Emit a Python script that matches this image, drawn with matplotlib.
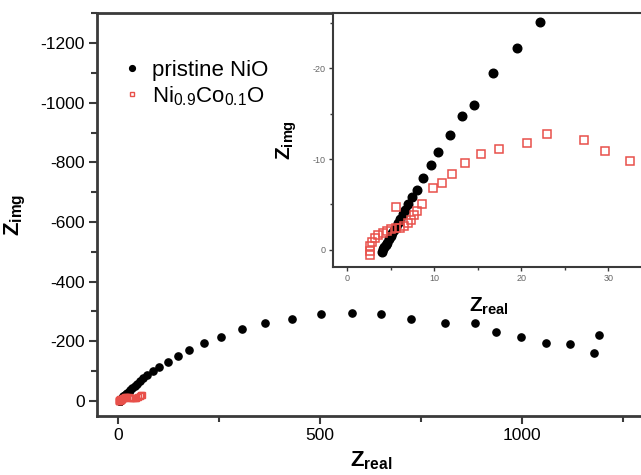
import matplotlib
matplotlib.use("Agg")
import matplotlib.pyplot as plt
from matplotlib.ticker import MultipleLocator

plt.rcParams['font.family'] = ['Liberation Sans', 'DejaVu Sans']
plt.rcParams['mathtext.fontset'] = 'custom'
plt.rcParams['mathtext.rm'] = 'Liberation Sans'
plt.rcParams['mathtext.bf'] = 'Liberation Sans:bold'
plt.rcParams['mathtext.it'] = 'Liberation Sans:italic'
plt.rcParams['axes.unicode_minus'] = False

# ---------------- data (Z_real, Z_img) ----------------
nio_real = [4.0, 4.15, 4.3, 4.45, 4.6, 4.8, 5.0, 5.2, 5.4, 5.6, 5.85, 6.1, 6.4, 6.7, 7.05,
            7.5, 8.0, 8.7, 9.6, 10.4, 11.8, 13.2, 14.6, 16.8, 19.5, 22.2,
            26, 30.5, 35.5, 41.5, 48, 55.5, 63, 71, 86, 102, 123, 148, 176, 214, 254,
            308, 364, 430, 503, 580, 651, 724, 808, 884, 936, 998, 1059, 1119, 1179, 1189]
nio_img = [0.2, -0.05, -0.3, -0.55, -0.8, -1.15, -1.5, -1.85, -2.2, -2.5, -2.9, -3.4, -3.9, -4.4, -5.1,
           -5.8, -6.6, -7.9, -9.3, -10.8, -12.7, -14.7, -16.0, -19.5, -22.2, -25.1,
           -30, -35.5, -42, -49.5, -58, -67, -76, -86, -100, -114, -130, -151, -170, -193, -215,
           -240, -260, -276, -292, -295, -290, -275, -262, -262, -232, -213, -193, -191, -159, -220]

nico_real = [2.6, 2.6, 2.7, 2.9, 3.2, 3.6, 4.1, 4.6, 5.1, 5.6, 6.1, 6.6, 7.0, 7.4, 7.7, 8.0, 8.6,
             5.63, 9.9, 10.9, 12.1, 13.6, 15.4, 17.5, 20.7, 23.0, 27.2, 29.6, 32.5,
             36.5, 41, 45.5, 50, 54, 57, 60]
nico_img = [0.6, 0.1, -0.4, -0.9, -1.3, -1.65, -1.9, -2.1, -2.25, -2.35, -2.45, -2.65, -2.9, -3.3, -3.8, -4.3, -5.1,
            -4.7, -6.8, -7.4, -8.4, -9.6, -10.6, -11.1, -11.8, -12.8, -12.1, -10.9, -9.8,
            -9.0, -8.6, -9.5, -12, -15, -18, -21]

main_xticks = [0, 500, 1000]
main_yticks = [0, -200, -400, -600, -800, -1000, -1200]
inset_xticks = [0, 10, 20, 30]
inset_yticks = [0, -10, -20]

labels = ['pristine NiO', r'Ni$_{0.9}$Co$_{0.1}$O']

# ---------------- figure ----------------
W, H = 641, 475
fig = plt.figure(figsize=(W / 100, H / 100), dpi=100)

spine_col = '#3a3a3a'
red = '#e8504a'

def frac(x0, y0, x1, y1):
    return [x0 / W, 1 - y1 / H, (x1 - x0) / W, (y1 - y0) / H]

ax = fig.add_axes(frac(97, 13, 645, 416))
ax.plot(nio_real, nio_img, 'o', color='black', ms=5.2, mec='black', label=labels[0], ls='none')
ax.plot(nico_real, nico_img, 's', mfc='none', mec=red, ms=4.2, mew=1.0, label=labels[1], ls='none')
ax.set_xlim(-52, 1304)
ax.set_ylim(51, -1301)
ax.set_xticks(main_xticks)
ax.set_yticks(main_yticks)
ax.xaxis.set_minor_locator(MultipleLocator(250))
ax.yaxis.set_minor_locator(MultipleLocator(100))
ax.tick_params(which='both', direction='out', width=1.5, color=spine_col, labelsize=12.5, top=False, right=False)
ax.tick_params(which='major', length=6, pad=3)
ax.tick_params(which='minor', length=4)
for s in ['left', 'bottom', 'top']:
    ax.spines[s].set_linewidth(2)
    ax.spines[s].set_color(spine_col)
ax.spines['right'].set_visible(False)
ax.set_xlabel(r'$\mathbf{Z}_{\mathbf{real}}$', fontsize=16, labelpad=4)
ax.set_ylabel(r'$\mathbf{Z}_{\mathbf{img}}$', fontsize=16)
ax.yaxis.set_label_coords(-0.125, 0.5)

leg = ax.legend(loc='upper left', bbox_to_anchor=(0.023, 0.923), frameon=False, fontsize=16,
                handlelength=0.6, handletextpad=0.6, labelspacing=0.15, borderpad=0.2,
                markerscale=0.8)

# ---------------- inset ----------------
ia = fig.add_axes(frac(333, 13, 645, 267))
ia.plot(nio_real, nio_img, 'o', color='black', ms=6.2, ls='none')
ia.plot(nico_real, nico_img, 's', mfc='none', mec=red, ms=5.5, mew=1.1, ls='none')
ia.set_xlim(-1.6, 34.2)
ia.set_ylim(1.9, -26.1)
ia.set_xticks(inset_xticks)
ia.set_yticks(inset_yticks)
ia.xaxis.set_minor_locator(MultipleLocator(5))
ia.yaxis.set_minor_locator(MultipleLocator(5))
ia.tick_params(which='both', direction='out', width=1.0, color=spine_col, labelsize=6.5,
               labelcolor='#666666', top=False, right=False)
ia.tick_params(which='major', length=3, pad=2)
ia.tick_params(which='minor', length=2)
for s in ['left', 'bottom', 'top']:
    ia.spines[s].set_linewidth(1.5)
    ia.spines[s].set_color(spine_col)
ia.spines['right'].set_visible(False)
ia.set_xlabel(r'$\mathbf{Z}_{\mathbf{real}}$', fontsize=15, labelpad=9)
ia.set_ylabel(r'$\mathbf{Z}_{\mathbf{img}}$', fontsize=15, labelpad=10)

fig.savefig('out.png', dpi=100)
